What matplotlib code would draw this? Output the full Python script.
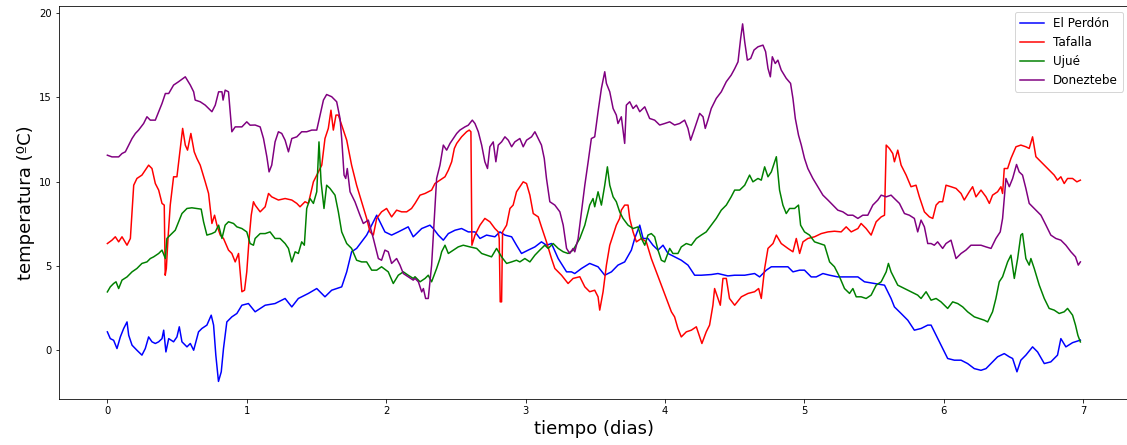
import numpy as np
import matplotlib.pyplot as plt

# El Perdón
t_perdon = [0.000, 0.021, 0.045, 0.069, 0.093, 0.117, 0.141, 0.153, 0.177, 0.212, 0.248, 0.272, 0.296, 0.320,
            0.344, 0.368, 0.392, 0.404, 0.420, 0.440, 0.475, 0.499, 0.516, 0.535, 0.571, 0.595, 0.619, 0.654,
            0.678, 0.714, 0.745, 0.762, 0.778, 0.797, 0.817, 0.833, 0.857, 0.893, 0.929, 0.965, 1.012,
            1.060, 1.132, 1.203, 1.275, 1.323, 1.370, 1.442, 1.502, 1.561, 1.609, 1.681, 1.717, 1.752, 1.788,
            1.824, 1.860, 1.896, 1.932, 1.955, 1.991, 2.039, 2.087, 2.158, 2.194,
            2.207, 2.255, 2.314, 2.338, 2.374, 2.410, 2.446, 2.494, 2.541, 2.589, 2.637, 2.673, 2.720, 2.780,
            2.816, 2.852, 2.900, 2.935, 2.971, 3.019, 3.067, 3.114, 3.150, 3.186, 3.234, 3.294, 3.329,
            3.353, 3.401, 3.460, 3.520, 3.568, 3.616, 3.663, 3.711, 3.759, 3.783, 3.819, 3.843, 3.878, 3.914,
            3.950, 3.986, 4.022, 4.069, 4.117, 4.165, 4.213, 4.260, 4.332, 4.380, 4.451,
            4.500, 4.572, 4.643, 4.679, 4.727, 4.763, 4.834, 4.882, 4.918, 4.966, 5.001, 5.049, 5.085, 5.133,
            5.181, 5.240, 5.312, 5.384, 5.431, 5.503, 5.575, 5.622,
            5.646, 5.694, 5.742, 5.789, 5.837, 5.885, 5.909, 5.945, 5.980, 6.028, 6.076, 6.124, 6.171, 6.219,
            6.267, 6.303, 6.339, 6.386, 6.434, 6.470, 6.494, 6.525, 6.553, 6.589, 6.637, 6.673, 6.721, 6.768,
            6.816, 6.840, 6.876, 6.924, 6.980]
T_perdon = [1.09, 0.69, 0.59, 0.10, 0.79, 1.29, 1.68, 0.89, 0.30, 0.00, -0.29, 0.10, 0.79, 0.50,
            0.40, 0.50, 0.69, 1.19, -0.10, 0.69, 0.50, 0.79, 1.39, 0.50, 0.20, 0.40, 0.00, 1.09,
            1.29, 1.49, 2.08, 1.49, -0.29, -1.85, -1.28, 0.10, 1.68, 1.98, 2.18, 2.67, 2.77,
            2.28, 2.67, 2.77, 3.07, 2.57, 3.07, 3.37, 3.66, 3.17, 3.56, 3.76, 4.65, 5.84, 6.04,
            6.43, 6.83, 7.42, 8.01, 7.62, 7.02, 6.83, 7.02, 7.32, 6.73,
            6.83, 7.22, 7.42, 7.22, 6.83, 6.53, 6.92, 7.12, 7.22, 7.02, 7.02, 6.63, 6.83, 6.73,
            7.02, 6.83, 6.73, 6.23, 5.74, 5.94, 6.13, 6.43, 6.23, 6.33, 5.44, 4.65, 4.65,
            4.55, 4.85, 5.15, 4.95, 4.45, 4.65, 5.05, 5.24, 5.94, 6.63, 7.42, 6.63, 6.63, 6.23,
            5.94, 6.23, 5.74, 5.54, 5.34, 5.05, 4.45, 4.45, 4.49, 4.55, 4.41,
            4.45, 4.45, 4.55, 4.35, 4.75, 4.95, 4.95, 4.95, 4.65, 4.75, 4.75, 4.35, 4.35, 4.55,
            4.45, 4.35, 4.35, 4.35, 4.06, 3.96, 3.86, 3.07,
            2.57, 2.18, 1.78, 1.19, 1.29, 1.49, 1.49, 0.89, 0.30, -0.49, -0.59, -0.59, -0.79, -1.09,
            -1.19, -1.09, -0.79, -0.39, -0.20, -0.39, -0.49, -1.28, -0.59, -0.29, 0.20, -0.10, -0.79, -0.69,
            -0.29, 0.69, 0.20, 0.45, 0.60]

# Tafalla
t_tafalla = [0.000, 0.033, 0.057, 0.081, 0.105, 0.141, 0.165, 0.177, 0.189, 0.212, 0.248, 0.272, 0.296, 0.320,
             0.344, 0.368, 0.392, 0.408, 0.415, 0.423, 0.435, 0.451, 0.475, 0.499, 0.523, 0.540, 0.559, 0.575,
             0.599, 0.623, 0.642, 0.666, 0.702, 0.726, 0.750, 0.769, 0.786, 0.810, 0.833, 0.869, 0.893, 0.917,
             0.941, 0.965, 0.984, 1.000, 1.017, 1.032, 1.048,
             1.060, 1.096, 1.132, 1.156, 1.179, 1.227, 1.275, 1.323, 1.359, 1.382, 1.418, 1.442, 1.478, 1.514,
             1.538, 1.561, 1.585, 1.604, 1.621, 1.640, 1.657, 1.681, 1.717, 1.752, 1.788, 1.824, 1.860, 1.884,
             1.908, 1.932, 1.967, 2.003, 2.039, 2.075, 2.111, 2.147, 2.182,
             2.207, 2.243, 2.279, 2.326, 2.350, 2.386, 2.422, 2.446, 2.470, 2.489, 2.506, 2.541, 2.577, 2.596,
             2.608, 2.615, 2.637, 2.673, 2.708, 2.744, 2.780, 2.804, 2.811, 2.818, 2.828, 2.835, 2.864, 2.888,
             2.911, 2.935, 2.959, 2.983, 3.007, 3.031, 3.055, 3.091, 3.114, 3.150, 3.186, 3.210, 3.258, 3.305,
             3.341,
             3.389, 3.425, 3.460, 3.496, 3.520, 3.532, 3.556, 3.580, 3.604, 3.628, 3.651, 3.675, 3.687, 3.711,
             3.735, 3.747, 3.771, 3.795, 3.831, 3.866, 3.902, 3.938, 3.974, 4.010, 4.046, 4.069, 4.093, 4.117,
             4.153, 4.189, 4.225, 4.249, 4.265, 4.296, 4.320, 4.344, 4.356, 4.380, 4.397, 4.416, 4.440, 4.463,
             4.500, 4.548, 4.596, 4.643, 4.672, 4.691, 4.715, 4.739, 4.775, 4.799, 4.834, 4.882, 4.918, 4.942,
             4.966, 4.990, 5.025, 5.073, 5.121, 5.169, 5.216, 5.264, 5.300, 5.336, 5.384, 5.407, 5.443, 5.479,
             5.515, 5.551, 5.575, 5.587, 5.610, 5.634,
             5.646, 5.670, 5.694, 5.730, 5.765, 5.801, 5.825, 5.861, 5.897, 5.921, 5.945, 5.968, 5.992, 6.016,
             6.052, 6.088, 6.124, 6.147, 6.183, 6.207, 6.231, 6.267, 6.303, 6.327, 6.350, 6.386, 6.410, 6.422,
             6.434, 6.458, 6.482, 6.518, 6.553, 6.589, 6.613, 6.637, 6.661, 6.697, 6.744, 6.792, 6.816, 6.840,
             6.864, 6.888, 6.924, 6.955, 6.980]
T_tafalla = [6.33, 6.53, 6.73, 6.43, 6.73, 6.23, 6.63, 8.21, 9.79, 10.19, 10.39, 10.68, 10.98, 10.78,
             9.89, 9.50, 8.71, 8.61, 4.45, 4.85, 6.63, 8.61, 10.29, 10.29, 11.97, 13.16, 12.17, 11.87,
             12.86, 11.77, 11.38, 10.98, 9.99, 9.30, 7.52, 8.01, 7.42, 6.83, 6.63, 5.94, 5.74, 5.24,
             5.74, 3.47, 3.56, 4.65, 6.63, 8.01, 8.81,
             8.61, 8.21, 8.51, 9.30, 9.10, 8.91, 9.00, 8.91, 8.71, 8.51, 8.81, 8.71, 9.99, 10.58,
             10.98, 12.56, 13.16, 14.24, 13.06, 13.95, 13.95, 13.36, 12.46, 10.98, 9.79, 8.81, 7.82, 7.02,
             6.83, 7.82, 8.21, 8.41, 7.91, 8.31, 8.21, 8.21, 8.41,
             8.71, 9.20, 9.30, 9.50, 9.89, 10.09, 10.29, 10.68, 11.18, 11.97, 12.27, 12.66, 12.96, 13.06,
             12.96, 6.23, 6.83, 7.42, 7.82, 7.62, 7.22, 7.02, 6.63, 2.87, 2.87, 7.02, 7.42, 8.41,
             8.61, 9.40, 9.70, 9.99, 9.89, 9.20, 8.11, 7.91, 7.32, 6.43, 5.44, 4.85, 4.45, 3.96,
             4.26,
             4.36, 3.76, 3.47, 3.56, 3.17, 2.38, 3.47, 5.05, 6.23, 6.83, 7.42, 7.82, 8.31, 8.61,
             8.61, 7.82, 7.02, 6.43, 6.63, 6.43, 5.44, 4.65, 3.86, 3.07, 2.28, 1.98, 1.29, 0.79,
             1.09, 1.19, 1.39, 0.79, 0.40, 1.09, 1.49, 2.67, 3.66, 3.07, 2.67, 4.26, 4.26, 3.07,
             2.67, 3.17, 3.37, 3.47, 3.66, 3.07, 4.85, 6.04, 6.33, 6.83, 6.33, 6.04, 5.84, 6.63,
             5.74, 6.43, 6.63, 6.73, 6.92, 7.02, 7.06, 7.02, 7.32, 7.02, 7.22, 7.52, 7.22, 6.83,
             7.62, 7.91, 8.01, 12.17, 11.97, 11.67,
             11.18, 11.87, 10.98, 10.39, 9.70, 9.79, 9.10, 8.21, 7.91, 7.82, 8.61, 8.81, 8.81, 9.79,
             9.70, 9.60, 9.30, 8.91, 9.40, 9.70, 9.10, 9.50, 9.10, 8.71, 9.20, 9.40, 9.70, 9.30,
             10.78, 10.78, 11.38, 12.07, 12.17, 12.07, 11.97, 12.66, 11.48, 11.18, 10.78, 10.39, 10.09, 10.29,
             9.89, 10.19, 10.19, 9.99, 10.09]

# Ujué
t_ujue = [0.000, 0.021, 0.045, 0.062, 0.081, 0.105, 0.141, 0.177, 0.212, 0.248, 0.284, 0.308, 0.332, 0.368,
          0.392, 0.416, 0.427, 0.451, 0.487, 0.511, 0.535, 0.571, 0.606, 0.642, 0.673, 0.690, 0.714, 0.750,
          0.774, 0.798, 0.822, 0.845, 0.869, 0.905, 0.929, 0.965, 1.000, 1.024, 1.048,
          1.060, 1.096, 1.132, 1.167, 1.203, 1.239, 1.275, 1.299, 1.323, 1.347, 1.370, 1.394, 1.413, 1.430,
          1.454, 1.478, 1.502, 1.518, 1.533, 1.554, 1.573, 1.597, 1.633, 1.657, 1.681, 1.717, 1.752, 1.788,
          1.824, 1.860, 1.896, 1.932, 1.967, 2.015, 2.051, 2.087, 2.123, 2.158, 2.194,
          2.207, 2.243, 2.279, 2.302, 2.326, 2.362, 2.386, 2.398, 2.422, 2.446, 2.482, 2.517, 2.553, 2.601,
          2.649, 2.685, 2.720, 2.756, 2.792, 2.828, 2.864, 2.900, 2.935, 2.959, 2.995, 3.031, 3.067, 3.102,
          3.138, 3.162, 3.198, 3.234, 3.270, 3.305, 3.341,
          3.389, 3.425, 3.460, 3.484, 3.496, 3.520, 3.544, 3.568, 3.587, 3.604, 3.628, 3.651, 3.675, 3.699,
          3.735, 3.771, 3.807, 3.831, 3.855, 3.878, 3.902, 3.926, 3.950, 3.974, 3.998, 4.034, 4.057, 4.093,
          4.117, 4.153, 4.189, 4.225, 4.260, 4.296, 4.332, 4.368, 4.404, 4.440, 4.475,
          4.500, 4.536, 4.572, 4.607, 4.631, 4.667, 4.691, 4.715, 4.739, 4.763, 4.799, 4.822, 4.846, 4.870,
          4.894, 4.930, 4.958, 4.973, 5.001, 5.037, 5.073, 5.109, 5.145, 5.181, 5.216, 5.252, 5.288, 5.324,
          5.348, 5.372, 5.407, 5.443, 5.479, 5.515, 5.551, 5.587, 5.603, 5.622,
          5.646, 5.670, 5.718, 5.765, 5.813, 5.837, 5.873, 5.909, 5.945, 5.980, 6.028, 6.064, 6.100, 6.136,
          6.171, 6.219, 6.255, 6.291, 6.315, 6.350, 6.374, 6.398, 6.422, 6.458, 6.482, 6.506, 6.530, 6.553,
          6.565, 6.589, 6.613, 6.625, 6.649, 6.685, 6.721, 6.756, 6.792, 6.828, 6.864, 6.888, 6.924, 6.945,
          6.962, 6.980]
T_ujue = [3.46, 3.76, 3.96, 4.06, 3.66, 4.16, 4.35, 4.65, 4.85, 5.15, 5.24, 5.44, 5.54, 5.74,
          5.94, 5.44, 6.63, 6.83, 7.12, 7.62, 8.11, 8.41, 8.45, 8.41, 8.37, 7.62, 6.83, 6.92,
          7.02, 7.42, 6.63, 7.42, 7.62, 7.52, 7.32, 7.22, 7.02, 6.33, 6.23,
          6.63, 6.92, 6.92, 7.02, 6.63, 6.63, 6.33, 6.04, 5.24, 5.84, 5.74, 6.43, 6.23, 8.41,
          9.00, 8.71, 9.40, 12.36, 9.99, 8.41, 9.79, 9.60, 9.20, 8.21, 7.02, 6.33, 6.04, 5.34,
          5.24, 5.24, 4.75, 4.75, 4.95, 4.65, 3.96, 4.45, 4.65, 4.45, 4.26,
          4.36, 4.06, 4.26, 4.45, 4.06, 4.85, 5.44, 5.84, 6.23, 5.74, 5.94, 6.13, 6.23, 6.13,
          6.04, 5.74, 5.64, 5.54, 6.04, 5.54, 5.15, 5.24, 5.34, 5.24, 5.44, 5.24, 5.64, 5.94,
          6.23, 6.04, 6.33, 6.04, 5.84, 5.74, 5.94,
          6.63, 7.42, 8.61, 9.00, 8.51, 9.40, 8.61, 9.79, 10.88, 9.79, 9.10, 8.81, 8.21, 7.82,
          7.42, 7.22, 7.32, 6.63, 6.23, 6.83, 6.92, 6.73, 5.94, 5.34, 5.24, 6.04, 5.74, 5.74,
          6.13, 6.33, 6.23, 6.63, 6.83, 7.02, 7.42, 7.82, 8.31, 8.61, 9.10,
          9.50, 9.50, 9.79, 10.39, 9.99, 10.19, 10.09, 10.88, 10.29, 10.58, 11.48, 9.50, 8.61, 8.11,
          8.41, 8.41, 8.61, 7.42, 7.02, 6.83, 6.43, 6.33, 6.23, 5.24, 4.95, 4.36, 3.66, 3.37,
          3.66, 3.17, 3.17, 3.07, 3.27, 3.86, 4.06, 4.65, 5.15, 4.65,
          4.26, 3.86, 3.66, 3.47, 3.27, 3.07, 3.47, 2.97, 3.07, 2.87, 2.48, 2.87, 2.77, 2.57,
          2.28, 1.98, 1.88, 1.78, 1.68, 2.28, 3.07, 4.06, 4.36, 5.24, 5.64, 4.26, 5.44, 6.83,
          6.92, 5.44, 5.05, 5.44, 4.85, 3.86, 3.07, 2.48, 2.38, 2.18, 2.28, 2.48, 2.08, 1.49,
          0.89, 0.49]

# Doneztebe
t_doneztebe = [0.000, 0.033, 0.081, 0.105, 0.129, 0.153, 0.177, 0.201, 0.224, 0.260, 0.284, 0.308, 0.344,
               0.368, 0.392, 0.416, 0.440, 0.475, 0.511, 0.559, 0.595, 0.619, 0.630, 0.666, 0.702, 0.750,
               0.774, 0.798, 0.822, 0.830, 0.845, 0.869, 0.893, 0.917, 0.965, 1.000, 1.024,
               1.060, 1.096, 1.120, 1.144, 1.160, 1.179, 1.203, 1.227, 1.251, 1.275, 1.299, 1.323, 1.359,
               1.394, 1.430, 1.466, 1.502, 1.526, 1.550, 1.573, 1.609, 1.645, 1.669, 1.681, 1.698, 1.710,
               1.721, 1.741, 1.776, 1.812, 1.836, 1.872, 1.908, 1.944, 1.967, 1.991, 2.015, 2.039, 2.075,
               2.099, 2.123, 2.158, 2.194,
               2.207, 2.231, 2.255, 2.267, 2.283, 2.302, 2.326, 2.345, 2.362, 2.386, 2.410, 2.434, 2.458,
               2.482, 2.506, 2.529, 2.565, 2.589, 2.618, 2.637, 2.661, 2.685, 2.708, 2.727, 2.744, 2.768,
               2.787, 2.804, 2.828, 2.852, 2.876, 2.900, 2.923, 2.959, 2.983, 3.007, 3.043, 3.067, 3.091,
               3.114, 3.134, 3.150, 3.174, 3.210, 3.246, 3.270, 3.294, 3.317, 3.341,
               3.353, 3.377, 3.401, 3.425, 3.449, 3.472, 3.496, 3.520, 3.544, 3.568, 3.580, 3.604, 3.628,
               3.651, 3.663, 3.687, 3.711, 3.723, 3.747, 3.771, 3.795, 3.819, 3.855, 3.890, 3.926, 3.962,
               3.998, 4.034, 4.069, 4.105, 4.141, 4.165, 4.184, 4.213, 4.249, 4.273, 4.289, 4.308, 4.332,
               4.368, 4.404, 4.440, 4.475,
               4.500, 4.524, 4.543, 4.557, 4.572, 4.591, 4.615, 4.639, 4.667, 4.703, 4.722, 4.739, 4.756,
               4.770, 4.791, 4.810, 4.834, 4.870, 4.901, 4.918, 4.935, 4.958, 4.978, 5.001, 5.025, 5.061,
               5.097, 5.133, 5.169, 5.204, 5.240, 5.276, 5.312, 5.348, 5.384, 5.419, 5.455, 5.491, 5.527,
               5.551, 5.587, 5.622,
               5.646, 5.682, 5.718, 5.753, 5.789, 5.813, 5.837, 5.861, 5.885, 5.909, 5.932, 5.956, 5.992,
               6.016, 6.052, 6.088, 6.124, 6.159, 6.195, 6.231, 6.267, 6.303, 6.339, 6.374, 6.405, 6.422,
               6.434, 6.446, 6.470, 6.494, 6.522, 6.541, 6.565, 6.589, 6.613, 6.649, 6.697, 6.733, 6.768,
               6.804, 6.840, 6.876, 6.912, 6.945, 6.965, 6.980]
T_doneztebe = [11.57, 11.47, 11.47, 11.67, 11.77, 12.17, 12.56, 12.86, 13.06, 13.45, 13.85, 13.65, 13.65,
               14.15, 14.64, 15.23, 15.23, 15.73, 15.93, 16.22, 15.73, 15.33, 14.84, 14.74, 14.54, 14.15,
               14.54, 15.33, 15.33, 14.84, 15.43, 15.33, 12.96, 13.25, 13.25, 13.55, 13.35,
               13.36, 13.25, 12.56, 11.48, 10.58, 10.98, 12.36, 12.96, 12.86, 12.46, 11.77, 12.56, 12.66,
               12.96, 12.96, 13.06, 13.06, 13.95, 14.84, 15.17, 15.04, 14.74, 13.75, 12.56, 10.39, 10.19,
               10.78, 9.40, 8.81, 8.01, 7.52, 7.72, 6.63, 5.44, 5.34, 5.94, 5.84, 5.15, 5.44,
               5.05, 4.55, 4.36, 4.16,
               4.26, 4.06, 3.46, 3.66, 3.07, 3.07, 5.05, 7.82, 10.19, 10.98, 12.17, 11.87, 12.27,
               12.56, 12.86, 13.06, 13.25, 13.35, 13.65, 13.45, 12.96, 12.17, 11.18, 10.78, 12.07, 12.36,
               11.18, 12.17, 12.36, 12.66, 12.46, 12.07, 12.36, 12.56, 12.07, 12.46, 12.66, 12.96, 12.56,
               12.17, 11.38, 10.19, 8.81, 8.61, 8.21, 7.42, 6.04, 5.74, 6.04,
               5.84, 6.63, 8.21, 9.79, 11.18, 12.56, 12.66, 14.15, 15.53, 16.52, 15.83, 15.33, 14.34,
               13.95, 13.45, 13.85, 12.27, 14.54, 14.74, 14.34, 14.54, 14.15, 14.44, 13.75, 13.65, 13.36,
               13.45, 13.55, 13.36, 13.45, 13.65, 13.16, 12.46, 13.16, 14.05, 13.85, 13.16, 13.65, 14.34,
               14.94, 15.33, 15.93, 16.32,
               16.70, 17.11, 18.50, 19.36, 18.30, 17.21, 17.31, 17.81, 18.00, 18.10, 17.71, 16.72, 16.22,
               17.41, 17.01, 17.21, 16.62, 16.13, 15.83, 14.94, 13.75, 12.76, 12.17, 11.38, 10.78, 10.19,
               9.70, 9.20, 8.91, 8.61, 8.31, 8.21, 8.01, 8.01, 7.82, 8.01, 8.01, 8.61, 8.91,
               9.20, 9.10, 9.20,
               9.00, 8.71, 8.11, 8.01, 7.82, 7.02, 7.72, 7.32, 6.33, 6.33, 6.23, 6.43, 6.04,
               6.33, 6.53, 5.44, 5.74, 5.94, 6.23, 6.23, 6.23, 6.13, 6.04, 6.63, 7.02, 7.82,
               9.00, 10.19, 9.70, 10.19, 11.02, 10.58, 10.39, 9.60, 8.71, 8.41, 8.01, 7.42, 6.83,
               6.63, 6.53, 6.23, 5.84, 5.54, 5.05, 5.24]

fig = plt.figure(figsize=(1127/72, 445/72), dpi=72)
ax = fig.add_axes([0.0521, 0.1027, 0.9497, 0.8838])
ax.plot(t_perdon, T_perdon, color='blue', label='El Perdón')
ax.plot(t_tafalla, T_tafalla, color='red', label='Tafalla')
ax.plot(t_ujue, T_ujue, color='green', label='Ujué')
ax.plot(t_doneztebe, T_doneztebe, color='purple', label='Doneztebe')
ax.set_xlabel('tiempo (dias)', fontsize=18)
ax.set_ylabel('temperatura (ºC)', fontsize=18)
ax.legend(loc='upper right', fontsize=12)
fig.savefig('out.png', dpi=72)
